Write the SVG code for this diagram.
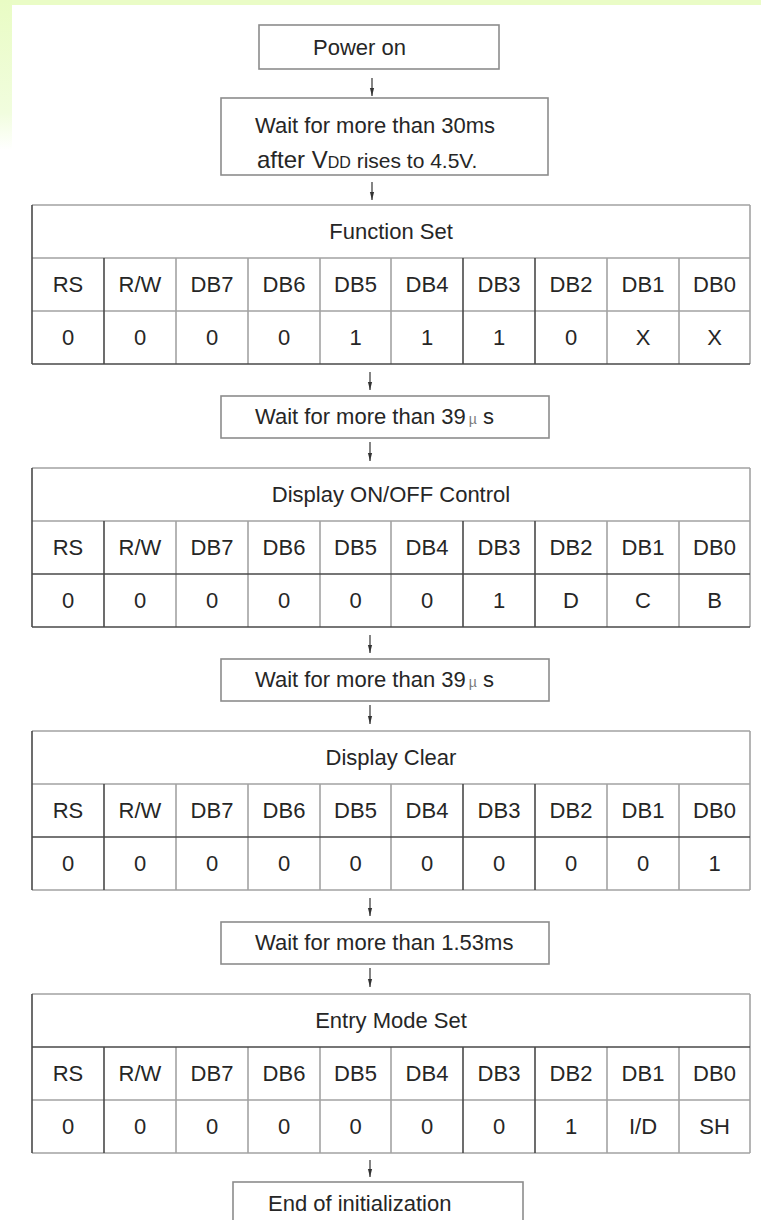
<svg xmlns="http://www.w3.org/2000/svg" width="761" height="1220" viewBox="0 0 761 1220">
<defs>
<linearGradient id="gl" x1="0" y1="0" x2="0" y2="1">
<stop offset="0" stop-color="#e9fcc4"/>
<stop offset="0.75" stop-color="#f1fdde"/>
<stop offset="1" stop-color="#ffffff"/>
</linearGradient>
<marker id="ah" viewBox="0 0 8 6" refX="8" refY="3" markerWidth="8" markerHeight="6" markerUnits="userSpaceOnUse" orient="auto">
<path d="M0,0.9 L8,3 L0,5.1 Z" fill="#333"/>
</marker>
<style>
text{font-family:"Liberation Sans",Arial,sans-serif;font-size:22px;fill:#262626}
.c{text-anchor:middle}
.box{fill:#fff;stroke:#8c8c8c;stroke-width:1.6}
.lt{stroke:#a3a3a3;stroke-width:1.6;fill:none}
.dk{stroke:#4a4a4a;stroke-width:1.6;fill:none}
.arr{stroke:#333;stroke-width:1.2;fill:none;marker-end:url(#ah)}
.mu{font-size:14px;fill:#7a7a7a}
</style>
</defs>
<rect width="761" height="1220" fill="#fff"/>
<rect x="0" y="0" width="761" height="5" fill="#eafcc6"/>
<rect x="0" y="0" width="12" height="150" fill="url(#gl)"/>

<g id="connectors">
<line class="arr" x1="372" y1="78" x2="372" y2="96"/>
<line class="arr" x1="372" y1="182" x2="372" y2="200"/>
<line class="arr" x1="370" y1="372" x2="370" y2="390"/>
<line class="arr" x1="370" y1="442" x2="370" y2="461"/>
<line class="arr" x1="370" y1="635" x2="370" y2="653"/>
<line class="arr" x1="370" y1="705" x2="370" y2="724"/>
<line class="arr" x1="370" y1="898" x2="370" y2="916"/>
<line class="arr" x1="370" y1="968" x2="370" y2="987"/>
<line class="arr" x1="370" y1="1160" x2="370" y2="1177"/>
</g>

<g id="power-on">
<rect class="box" x="259" y="25" width="240" height="44"/>
<text x="313" y="55">Power on</text>
</g>

<g id="wait-30ms">
<rect class="box" x="221" y="98" width="327" height="77"/>
<text x="255" y="133">Wait for more than 30ms</text>
<text x="257" y="168"><tspan font-size="24">after V</tspan><tspan font-size="16">DD</tspan><tspan font-size="21"> rises to 4.5V.</tspan></text>
</g>

<g id="function-set">
<path class="lt" d="M32,205 H750 M32,258 H750 M32,311 H750 M750,205 V364 M176,258 V364 M248,258 V364 M320,258 V364 M391,258 V364 M607,258 V364 M679,258 V364"/>
<path class="dk" d="M32,205 V364 M32,364 H750 M104,258 V364 M463,258 V364 M535,258 V364"/>
<text class="c" x="391" y="239">Function Set</text>
<text class="c" y="292"><tspan x="68">RS</tspan><tspan x="140">R/W</tspan><tspan x="212">DB7</tspan><tspan x="284">DB6</tspan><tspan x="355.5">DB5</tspan><tspan x="427">DB4</tspan><tspan x="499">DB3</tspan><tspan x="571">DB2</tspan><tspan x="643">DB1</tspan><tspan x="714.5">DB0</tspan></text>
<text class="c" y="345"><tspan x="68">0</tspan><tspan x="140">0</tspan><tspan x="212">0</tspan><tspan x="284">0</tspan><tspan x="355.5">1</tspan><tspan x="427">1</tspan><tspan x="499">1</tspan><tspan x="571">0</tspan><tspan x="643">X</tspan><tspan x="714.5">X</tspan></text>
</g>

<g id="wait-39us-1">
<rect class="box" x="221" y="396" width="328" height="42"/>
<text x="255" y="424">Wait for more than 39<tspan class="mu" dx="3">µ</tspan> s</text>
</g>

<g id="display-onoff">
<path class="lt" d="M32,468 H750 M32,521 H750 M750,468 V627 M176,521 V627 M248,521 V627 M320,521 V627 M391,521 V627 M607,521 V627 M679,521 V627"/>
<path class="dk" d="M32,468 V627 M32,574 H750 M32,627 H750 M104,521 V627 M463,521 V627 M535,521 V627"/>
<text class="c" x="391" y="502">Display ON/OFF Control</text>
<text class="c" y="555"><tspan x="68">RS</tspan><tspan x="140">R/W</tspan><tspan x="212">DB7</tspan><tspan x="284">DB6</tspan><tspan x="355.5">DB5</tspan><tspan x="427">DB4</tspan><tspan x="499">DB3</tspan><tspan x="571">DB2</tspan><tspan x="643">DB1</tspan><tspan x="714.5">DB0</tspan></text>
<text class="c" y="608"><tspan x="68">0</tspan><tspan x="140">0</tspan><tspan x="212">0</tspan><tspan x="284">0</tspan><tspan x="355.5">0</tspan><tspan x="427">0</tspan><tspan x="499">1</tspan><tspan x="571">D</tspan><tspan x="643">C</tspan><tspan x="714.5">B</tspan></text>
</g>

<g id="wait-39us-2">
<rect class="box" x="221" y="659" width="328" height="42"/>
<text x="255" y="687">Wait for more than 39<tspan class="mu" dx="3">µ</tspan> s</text>
</g>

<g id="display-clear">
<path class="lt" d="M32,731 H750 M32,784 H750 M32,890 H750 M750,731 V890 M176,784 V890 M248,784 V890 M320,784 V890 M391,784 V890 M607,784 V890 M679,784 V890"/>
<path class="dk" d="M32,731 V890 M32,837 H750 M104,784 V890 M463,784 V890 M535,784 V890"/>
<text class="c" x="391" y="765">Display Clear</text>
<text class="c" y="818"><tspan x="68">RS</tspan><tspan x="140">R/W</tspan><tspan x="212">DB7</tspan><tspan x="284">DB6</tspan><tspan x="355.5">DB5</tspan><tspan x="427">DB4</tspan><tspan x="499">DB3</tspan><tspan x="571">DB2</tspan><tspan x="643">DB1</tspan><tspan x="714.5">DB0</tspan></text>
<text class="c" y="871"><tspan x="68">0</tspan><tspan x="140">0</tspan><tspan x="212">0</tspan><tspan x="284">0</tspan><tspan x="355.5">0</tspan><tspan x="427">0</tspan><tspan x="499">0</tspan><tspan x="571">0</tspan><tspan x="643">0</tspan><tspan x="714.5">1</tspan></text>
</g>

<g id="wait-1.53ms">
<rect class="box" x="221" y="922" width="328" height="42"/>
<text x="255" y="950">Wait for more than 1.53ms</text>
</g>

<g id="entry-mode-set">
<path class="lt" d="M32,994 H750 M32,1100 H750 M32,1153 H750 M750,994 V1153 M176,1047 V1153 M248,1047 V1153 M320,1047 V1153 M391,1047 V1153 M607,1047 V1153 M679,1047 V1153"/>
<path class="dk" d="M32,994 V1153 M32,1047 H750 M104,1047 V1153 M463,1047 V1153 M535,1047 V1153"/>
<text class="c" x="391" y="1028">Entry Mode Set</text>
<text class="c" y="1081"><tspan x="68">RS</tspan><tspan x="140">R/W</tspan><tspan x="212">DB7</tspan><tspan x="284">DB6</tspan><tspan x="355.5">DB5</tspan><tspan x="427">DB4</tspan><tspan x="499">DB3</tspan><tspan x="571">DB2</tspan><tspan x="643">DB1</tspan><tspan x="714.5">DB0</tspan></text>
<text class="c" y="1134"><tspan x="68">0</tspan><tspan x="140">0</tspan><tspan x="212">0</tspan><tspan x="284">0</tspan><tspan x="355.5">0</tspan><tspan x="427">0</tspan><tspan x="499">0</tspan><tspan x="571">1</tspan><tspan x="643">I/D</tspan><tspan x="714.5">SH</tspan></text>
</g>

<g id="end-of-init">
<rect class="box" x="233" y="1182" width="290" height="60"/>
<text x="268" y="1211">End of initialization</text>
</g>
</svg>
